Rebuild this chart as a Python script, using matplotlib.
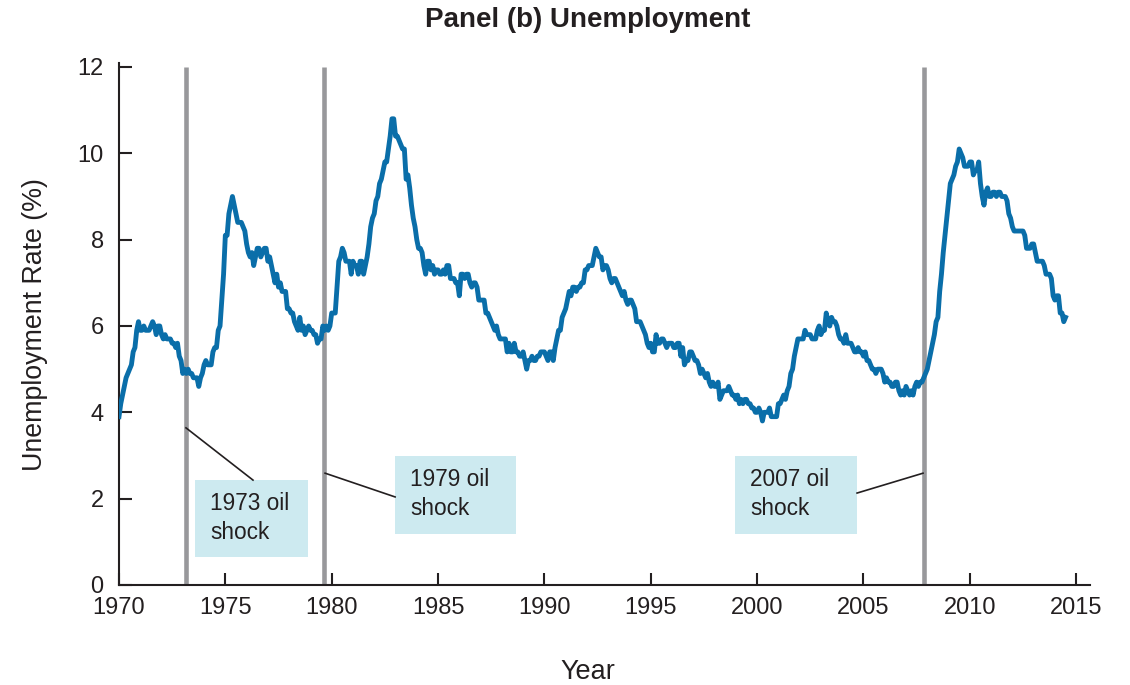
import numpy as np
import matplotlib
matplotlib.use('Agg')
from matplotlib import pyplot as plt
from matplotlib.patches import Rectangle

plt.rcParams['font.family'] = ['Liberation Sans', 'DejaVu Sans']

# monthly unemployment rate (%), Jan 1970 .. Jul 2014
u1970s = [3.9, 4.2, 4.4, 4.6, 4.8, 4.9, 5.0, 5.1, 5.4, 5.5, 5.9, 6.1,
          5.9, 5.9, 6.0, 5.9, 5.9, 5.9, 6.0, 6.1, 6.0, 5.8, 6.0, 6.0,
          5.8, 5.7, 5.8, 5.7, 5.7, 5.7, 5.6, 5.6, 5.5, 5.6, 5.3, 5.2,
          4.9, 5.0, 4.9, 5.0, 4.9, 4.9, 4.8, 4.8, 4.8, 4.6, 4.8, 4.9,
          5.1, 5.2, 5.1, 5.1, 5.1, 5.4, 5.5, 5.5, 5.9, 6.0, 6.6, 7.2,
          8.1, 8.1, 8.6, 8.8, 9.0, 8.8, 8.6, 8.4, 8.4, 8.4, 8.3, 8.2,
          7.9, 7.7, 7.6, 7.7, 7.4, 7.6, 7.8, 7.8, 7.6, 7.7, 7.8, 7.8,
          7.5, 7.6, 7.4, 7.2, 7.0, 7.2, 6.9, 7.0, 6.8, 6.8, 6.8, 6.4,
          6.4, 6.3, 6.3, 6.1, 6.0, 5.9, 6.2, 5.9, 6.0, 5.8, 5.9, 6.0,
          5.9, 5.9, 5.8, 5.8, 5.6, 5.7, 5.7, 6.0, 5.9, 6.0, 5.9, 6.0]
u1980s = [6.3, 6.3, 6.3, 6.9, 7.5, 7.6, 7.8, 7.7, 7.5, 7.5, 7.5, 7.2,
          7.5, 7.4, 7.4, 7.2, 7.5, 7.5, 7.2, 7.4, 7.6, 7.9, 8.3, 8.5,
          8.6, 8.9, 9.0, 9.3, 9.4, 9.6, 9.8, 9.8, 10.1, 10.4, 10.8, 10.8,
          10.4, 10.4, 10.3, 10.2, 10.1, 10.1, 9.4, 9.5, 9.2, 8.8, 8.5, 8.3,
          8.0, 7.8, 7.8, 7.7, 7.4, 7.2, 7.5, 7.5, 7.3, 7.4, 7.2, 7.3,
          7.3, 7.2, 7.2, 7.3, 7.2, 7.4, 7.4, 7.1, 7.1, 7.1, 7.0, 7.0,
          6.7, 7.2, 7.2, 7.1, 7.2, 7.2, 7.0, 6.9, 7.0, 7.0, 6.9, 6.6,
          6.6, 6.6, 6.6, 6.3, 6.3, 6.2, 6.1, 6.0, 5.9, 6.0, 5.8, 5.7,
          5.7, 5.7, 5.7, 5.4, 5.6, 5.4, 5.4, 5.6, 5.4, 5.4, 5.3, 5.3,
          5.4, 5.2, 5.0, 5.2, 5.2, 5.3, 5.2, 5.2, 5.3, 5.3, 5.4, 5.4]
u1990s = [5.4, 5.3, 5.2, 5.4, 5.4, 5.2, 5.5, 5.7, 5.9, 5.9, 6.2, 6.3,
          6.4, 6.6, 6.8, 6.7, 6.9, 6.9, 6.8, 6.9, 6.9, 7.0, 7.0, 7.3,
          7.3, 7.4, 7.4, 7.4, 7.6, 7.8, 7.7, 7.6, 7.6, 7.3, 7.4, 7.4,
          7.3, 7.1, 7.0, 7.1, 7.1, 7.0, 6.9, 6.8, 6.7, 6.8, 6.6, 6.5,
          6.6, 6.6, 6.5, 6.4, 6.1, 6.1, 6.1, 6.0, 5.9, 5.8, 5.6, 5.5,
          5.6, 5.4, 5.4, 5.8, 5.6, 5.6, 5.7, 5.7, 5.6, 5.5, 5.6, 5.6,
          5.6, 5.5, 5.5, 5.6, 5.6, 5.3, 5.5, 5.1, 5.2, 5.2, 5.4, 5.4,
          5.3, 5.2, 5.2, 5.1, 4.9, 5.0, 4.9, 4.8, 4.9, 4.7, 4.6, 4.7,
          4.6, 4.6, 4.7, 4.3, 4.4, 4.5, 4.5, 4.5, 4.6, 4.5, 4.4, 4.4,
          4.3, 4.4, 4.2, 4.3, 4.2, 4.3, 4.3, 4.2, 4.2, 4.1, 4.1, 4.0]
u2000s = [4.0, 4.1, 4.0, 3.8, 4.0, 4.0, 4.0, 4.1, 3.9, 3.9, 3.9, 3.9,
          4.2, 4.2, 4.3, 4.4, 4.3, 4.5, 4.6, 4.9, 5.0, 5.3, 5.5, 5.7,
          5.7, 5.7, 5.7, 5.9, 5.8, 5.8, 5.8, 5.7, 5.7, 5.7, 5.9, 6.0,
          5.8, 5.9, 5.9, 6.3, 6.1, 6.0, 6.2, 6.1, 6.1, 6.0, 5.8, 5.7,
          5.7, 5.6, 5.8, 5.6, 5.6, 5.6, 5.5, 5.4, 5.4, 5.5, 5.4, 5.4,
          5.3, 5.4, 5.2, 5.2, 5.1, 5.0, 5.0, 4.9, 5.0, 5.0, 5.0, 4.9,
          4.7, 4.8, 4.7, 4.7, 4.6, 4.6, 4.7, 4.7, 4.5, 4.4, 4.5, 4.4,
          4.6, 4.5, 4.4, 4.5, 4.4, 4.6, 4.7, 4.6, 4.7, 4.7, 4.8, 4.9,
          5.0, 5.2, 5.4, 5.6, 5.8, 6.1, 6.2, 6.8, 7.2, 7.7, 8.1, 8.5,
          8.9, 9.3, 9.4, 9.5, 9.7, 9.8, 10.1, 10.0, 9.9, 9.7, 9.7, 9.7]
u2010s = [9.8, 9.8, 9.5, 9.6, 9.6, 9.8, 9.3, 9.0, 8.8, 9.1, 9.2, 9.0,
          9.0, 9.1, 9.1, 9.0, 9.1, 9.1, 9.0, 9.0, 9.0, 8.9, 8.6, 8.5,
          8.3, 8.2, 8.2, 8.2, 8.2, 8.2, 8.2, 8.1, 7.8, 7.8, 7.8, 7.9,
          7.9, 7.7, 7.5, 7.5, 7.5, 7.5, 7.4, 7.2, 7.2, 7.2, 7.1, 6.7,
          6.6, 6.7, 6.7, 6.3, 6.3, 6.1, 6.2]

shock_years = [1973.15, 1979.63, 2007.85]
shock_labels = ['1973 oil\nshock', '1979 oil\nshock', '2007 oil\nshock']

rate = np.array(u1970s + u1980s + u1990s + u2000s + u2010s)
year = 1970 + np.arange(len(rate)) / 12.0

fig = plt.figure(figsize=(11.3, 6.85), dpi=100)
ax = fig.add_axes([0.1053, 0.146, 0.8593, 0.7625])

ax.vlines(shock_years, 0, 12, color='#98989b', lw=3.3, zorder=2)
ax.plot(year, rate, color='#0a6ea9', lw=3.5, zorder=3,
        solid_joinstyle='round')

# annotation boxes: (x0, x1, y0, y1) in data units, and leader line ends
boxes = [(1973.57, 1978.89, 0.65, 2.43), (1982.98, 1988.66, 1.18, 2.99),
         (1998.96, 2004.70, 1.18, 2.99)]
leaders = [((1973.15, 3.64), (1976.30, 2.43)),
           ((1979.69, 2.59), (1982.98, 2.04)),
           ((2007.80, 2.59), (2004.70, 2.13))]
for (x0, x1, y0, y1), lab, (p, q) in zip(boxes, shock_labels, leaders):
    ax.add_patch(Rectangle((x0, y0), x1 - x0, y1 - y0, facecolor='#cdeaf0',
                           edgecolor='none', zorder=4))
    ax.text(x0 + 0.72, (y0 + y1) / 2 + 0.02, lab, fontsize=16.3,
            color='#231f20', va='center', ha='left', linespacing=1.32,
            zorder=5)
    ax.plot([p[0], q[0]], [p[1], q[1]], color='#231f20', lw=1.2, zorder=4)

ax.set_xlim(1970, 2015.65)
ax.set_ylim(0, 12.1)
ax.set_xticks(range(1970, 2016, 5))
ax.set_yticks(range(0, 13, 2))
for s in ['top', 'right']:
    ax.spines[s].set_visible(False)
for s in ['left', 'bottom']:
    ax.spines[s].set_linewidth(1.5)
    ax.spines[s].set_color('#231f20')
ax.tick_params(direction='in', length=9, width=1.5, color='#231f20',
               labelsize=17, labelcolor='#231f20')
ax.tick_params(axis='y', pad=11)
ax.tick_params(axis='x', pad=9)

fig.text(0.5204, 0.971, 'Panel (b) Unemployment', ha='center', va='center',
         fontsize=20, fontweight='bold', color='#231f20')
fig.text(0.5204, 0.019, 'Year', ha='center', va='center', fontsize=19.5,
         color='#231f20')
fig.text(0.031, 0.5255, 'Unemployment Rate (%)', ha='center', va='center',
         rotation=90, fontsize=19.3, color='#231f20')

plt.savefig('out.png', dpi=100)
plt.close('all')
